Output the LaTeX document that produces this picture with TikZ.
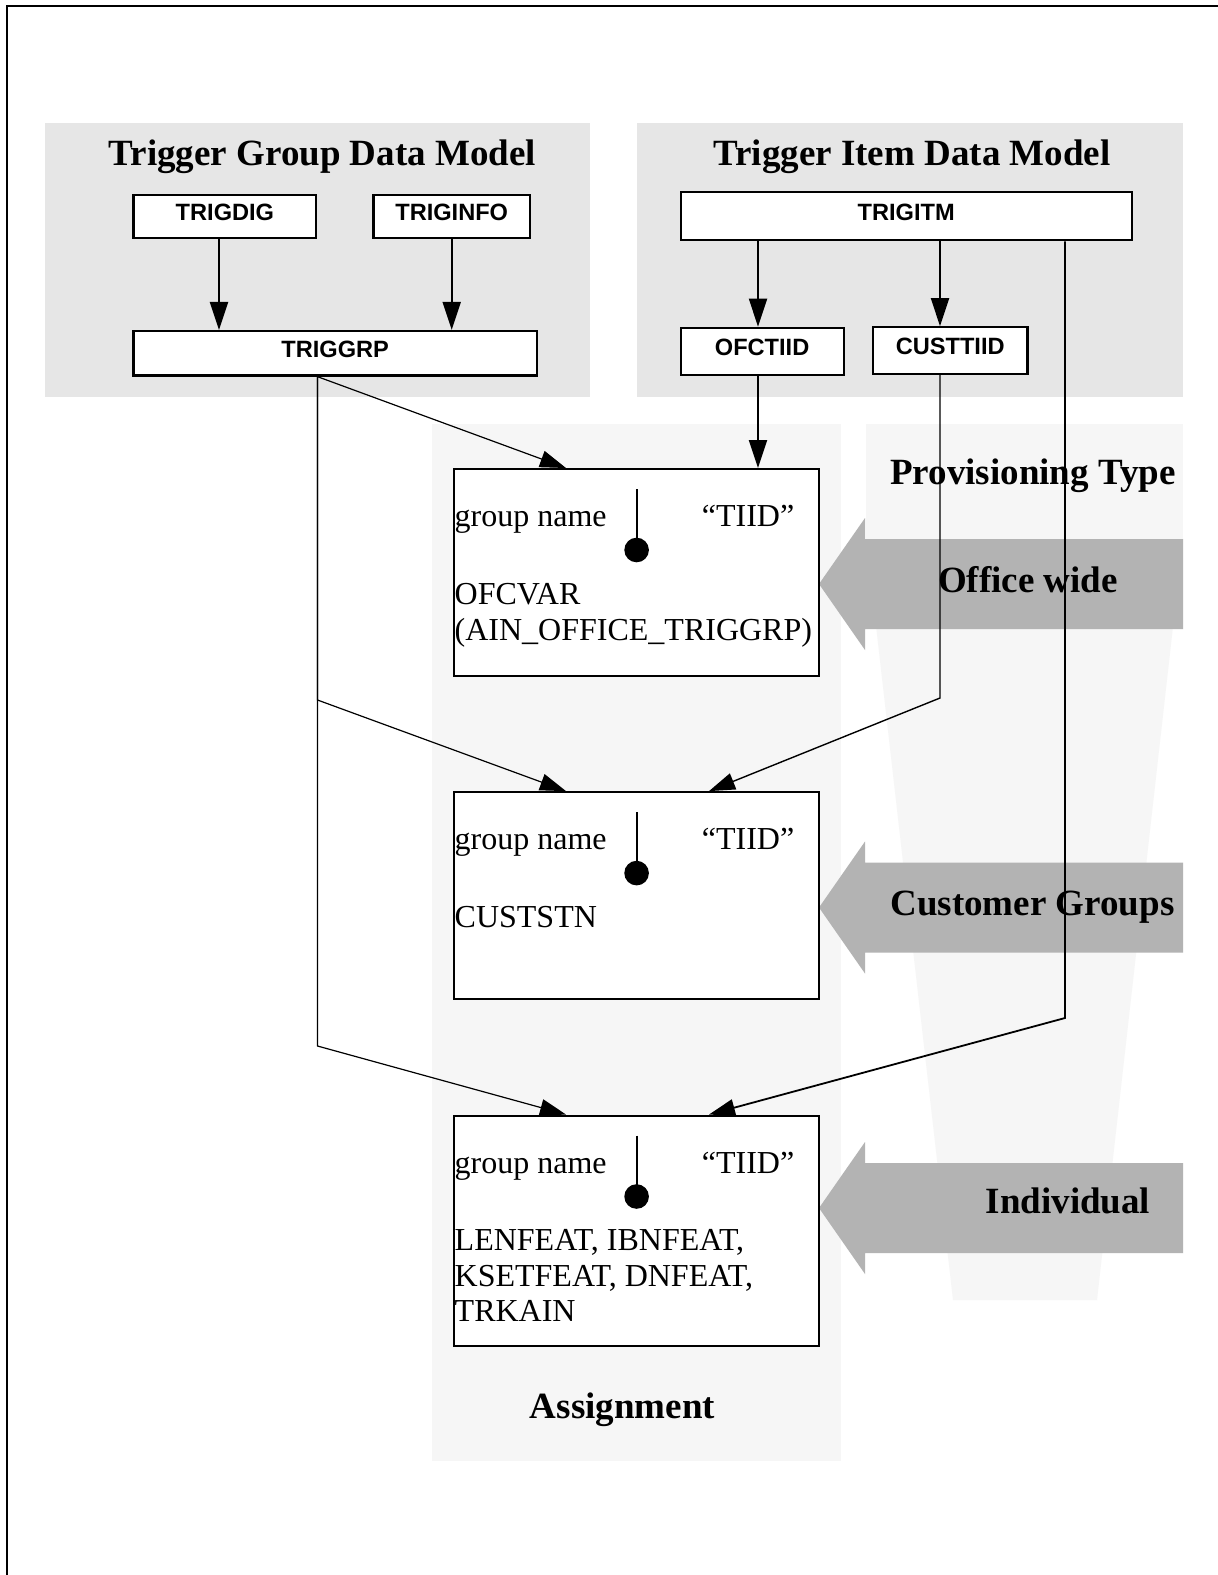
\documentclass[tikz,border=0pt]{standalone}
\usepackage{fontspec}
\setmainfont{Liberation Serif}
\newfontfamily\arialfont{Liberation Sans}
\usetikzlibrary{arrows.meta}
\definecolor{panelgray}{HTML}{E6E6E6}
\definecolor{lightpanel}{HTML}{F6F6F6}
\definecolor{arrowgray}{HTML}{B3B3B3}
\begin{document}
\begin{tikzpicture}[x=1pt,y=-1pt,
  tbl/.style={draw, line width=2.2pt, fill=white, inner sep=0pt,
    font=\arialfont\bfseries\fontsize{23.6}{23.6}\selectfont, text height=16.9pt, text depth=8.4pt},
  asg/.style={draw, line width=2.2pt, fill=white, minimum width=365.4pt},
  titletext/.style={font=\bfseries\fontsize{37}{37}\selectfont, anchor=base},
  bodytext/.style={font=\fontsize{32}{35.5}\selectfont, anchor=base west, inner sep=0pt},
  thickarrow/.style={line width=2pt, -{Triangle[length=28pt,width=18pt]}},
  thinarrow/.style={line width=1.2pt, -{Triangle[length=26pt,width=17pt]}},
]
\useasboundingbox (0,0) rectangle (1218,1575);
\fill[white] (0,0) rectangle (1218,1575);
% frame (left and top edges)
\draw[line width=2.5pt] (7,1575) -- (7,6) -- (1218,6);

% background panels
\fill[panelgray] (45,122.5) rectangle (590,397);
\fill[panelgray] (637,122.5) rectangle (1183,397);
\fill[lightpanel] (432,423.5) rectangle (840.5,1461);
\fill[lightpanel] (865.5,423.5) rectangle (1183,538);
\fill[lightpanel] (866,538) -- (1183,538) -- (1097,1300) -- (953,1300) -- cycle;

% provisioning arrows
\fill[arrowgray] (819,584) -- (865,518) -- (865,539) -- (1183,539) -- (1183,629) -- (865,629) -- (865,650) -- cycle;
\fill[arrowgray] (819,907.5) -- (865,841.5) -- (865,862.5) -- (1183,862.5) -- (1183,952.5) -- (865,952.5) -- (865,973.5) -- cycle;
\fill[arrowgray] (819,1208) -- (865,1142) -- (865,1163) -- (1183,1163) -- (1183,1253) -- (865,1253) -- (865,1274) -- cycle;

% titles
\node[titletext] (tgdm) at (322.3,165) {Trigger Group Data Model};
\node[titletext] (tidm) at (912,165) {Trigger Item Data Model};
\node[titletext] (ptype) at (1033,484.5) {Provisioning Type};
\node[titletext] (owide) at (1028,592.5) {Office wide};
\node[titletext] (cgroups) at (1032.5,915) {Customer Groups};
\node[titletext] (indiv) at (1068,1213.5) {Individual};
\node[titletext] (assign) at (622.5,1418) {Assignment};

% tables
\node[tbl, minimum width=182.8pt, minimum height=43.2pt] (trigdig) at (224.9,216.4) {TRIGDIG};
\node[tbl, minimum width=156.5pt, minimum height=43.2pt] (triginfo) at (451.7,216.4) {TRIGINFO};
\node[tbl, minimum width=403.5pt, minimum height=44.5pt] (triggrp) at (335.2,353.3) {TRIGGRP};
\node[tbl, minimum width=451pt, minimum height=48.5pt] (trigitm) at (906.2,216) {TRIGITM};
\node[tbl, minimum width=163pt, minimum height=47.5pt] (ofctiid) at (762.1,351.5) {OFCTIID};
\node[tbl, minimum width=154.6pt, minimum height=46.5pt] (custtiid) at (950.2,350.5) {CUSTTIID};

% assignment boxes
\node[asg, minimum height=206.8pt] (b1) at (636.6,572.5) {};
\node[asg, minimum height=206.8pt] (b2) at (636.6,895.6) {};
\node[asg, minimum height=230.4pt] (b3) at (636.6,1230.8) {};

\node[bodytext] (gn1) at (454.5,526.7) {group name};
\node[bodytext] (ti1) at (701.7,526.7) {``TIID''};
\node[bodytext] (ofc1) at (454.5,604.5) {OFCVAR};
\node[bodytext] (ofc2) at (454.5,640) {(AIN\_OFFICE\_TRIGGRP)};

\node[bodytext] (gn2) at (454.5,849.6) {group name};
\node[bodytext] (ti2) at (701.7,849.6) {``TIID''};
\node[bodytext] (cst) at (454.5,927.4) {CUSTSTN};

\node[bodytext] (gn3) at (454.5,1173) {group name};
\node[bodytext] (ti3) at (701.7,1173) {``TIID''};
\node[bodytext] (ind1) at (454.5,1250.8) {LENFEAT, IBNFEAT,};
\node[bodytext] (ind2) at (454.5,1286.3) {KSETFEAT, DNFEAT,};
\node[bodytext] (ind3) at (454.5,1321.8) {TRKAIN};

% pins with dots
\foreach \b in {b1,b2,b3}{
  \draw[line width=2pt] ([yshift=-21pt]\b.north) -- ([yshift=-80pt]\b.north);
  \fill ([yshift=-82pt]\b.north) circle[radius=12.3pt];
}

% helper coordinates
\coordinate (xdig) at (219,0);
\coordinate (xofc) at (758,0);
\coordinate (xcust) at (940,0);
\coordinate (xitm) at (1065,0);
\coordinate (xgrp) at (317.5,0);
\coordinate (xtl) at (566,0);
\coordinate (xtr) at (709,0);
\coordinate (k2) at (317.5,700);
\coordinate (k3) at (317.5,1046);
\coordinate (k4) at (940,698);
\coordinate (k5) at (1065,1018);

% connectors
\draw[thickarrow] (trigdig.south -| xdig) -- (triggrp.north -| xdig);
\draw[thickarrow] (triginfo.south) -- (triggrp.north -| triginfo.south);
\draw[thickarrow] (trigitm.south -| xofc) -- (ofctiid.north -| xofc);
\draw[thickarrow] (trigitm.south -| xcust) -- (custtiid.north -| xcust);
\draw[thickarrow] (ofctiid.south -| xofc) -- (b1.north -| xofc);

\draw[thinarrow] (triggrp.south -| xgrp) -- (b1.north -| xtl);
\draw[thinarrow] (triggrp.south -| xgrp) -- (k2) -- (b2.north -| xtl);
\draw[thinarrow] (triggrp.south -| xgrp) -- (k3) -- (b3.north -| xtl);
\draw[thinarrow, line width=1.4pt] (custtiid.south -| xcust) -- (k4) -- (b2.north -| xtr);
\draw[thinarrow, line width=1.8pt] (trigitm.south -| xitm) -- (k5) -- (b3.north -| xtr);
\end{tikzpicture}
\end{document}
